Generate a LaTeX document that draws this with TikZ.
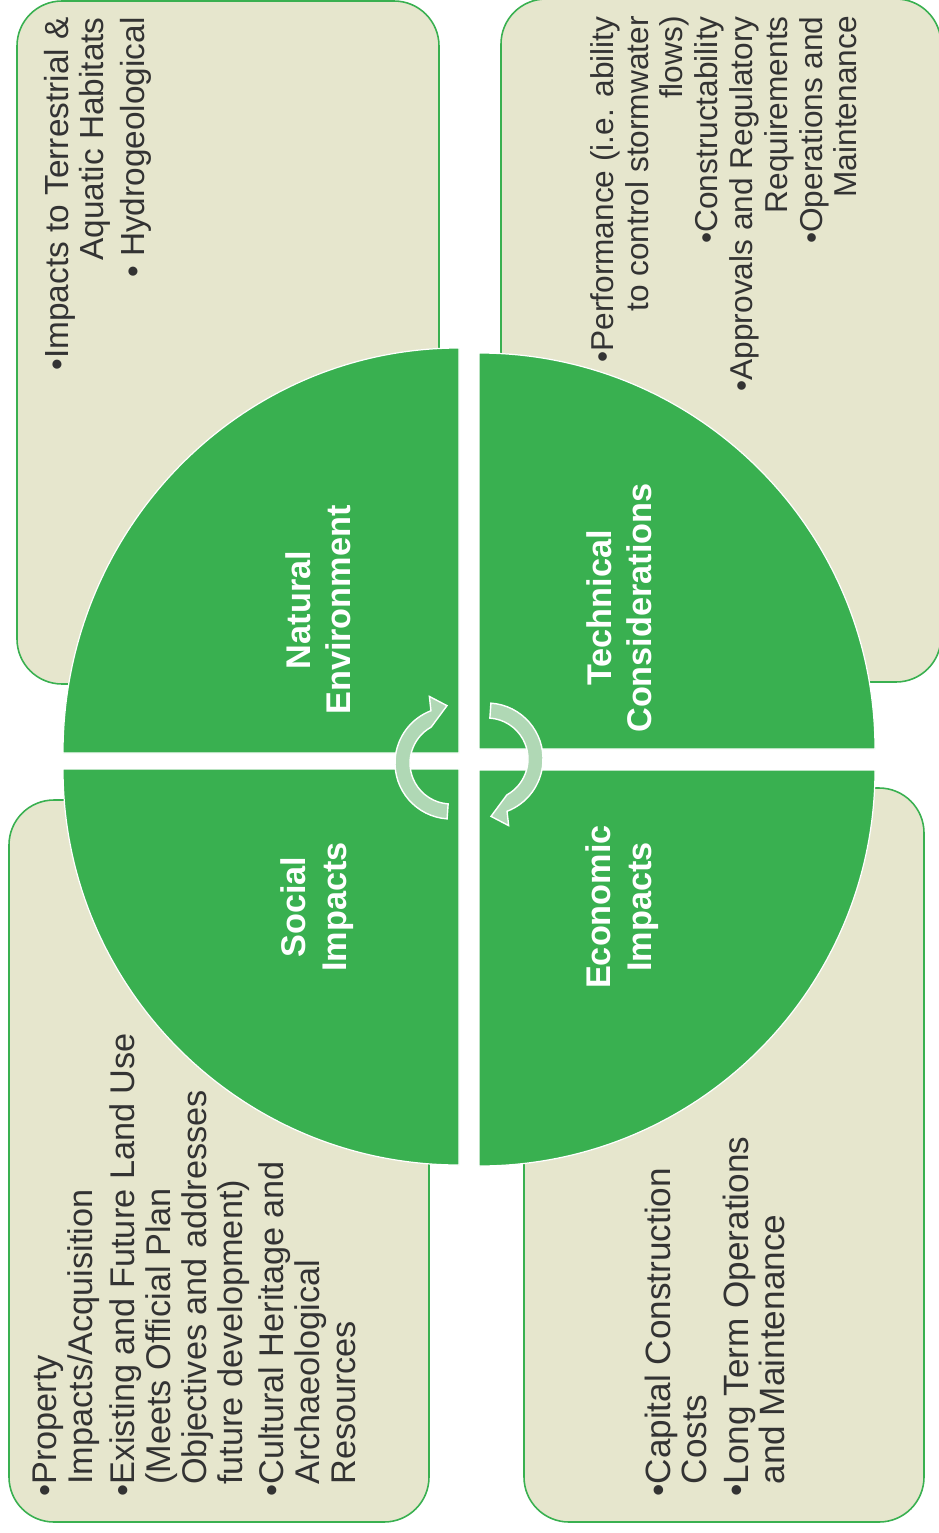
\documentclass[tikz,border=0pt]{standalone}
\usepackage{fontspec}
\setmainfont{Liberation Sans}
\usepackage{tikz}
\usetikzlibrary{calc}
\usetikzlibrary{positioning}
\definecolor{leafgreen}{RGB}{57, 176, 80}
\definecolor{parchment}{RGB}{230, 230, 205}
\definecolor{mintgreen}{RGB}{176, 216, 181}

\begin{document}
\begin{tikzpicture}[
    listbox/.style={fill=parchment, draw=leafgreen, line width=0.9pt, rounded corners=0.9cm},
    quadrant/.style={fill=leafgreen, draw=white, line width=0.7pt},
    cyclearrow/.style={fill=mintgreen, draw=white, line width=0.8pt},
    titletext/.style={text=white, align=center, rotate=90, inner sep=0pt,
                      font={\fontsize{19.5pt}{23pt}\selectfont\bfseries}},
    listtext/.style={text=black!80, rotate=90, inner sep=0pt}
  ]
            % Frame to fix the page size
            \useasboundingbox (0,0) rectangle (18.76,-30.66);
            % Text panels
            \draw[listbox] ( 0.34, -0.02) rectangle ( 8.78,-13.68);
            \draw[listbox] (10.02,  0.02) rectangle (18.82,-13.64);
            \draw[listbox] ( 0.18,-16.00) rectangle ( 8.58,-30.44);
            \draw[listbox] (10.48,-15.76) rectangle (18.48,-30.44);
            % Quadrants
            \filldraw[quadrant] ( 9.18,-15.06) -- ( 1.26,-15.06) arc[start angle=180, end angle=90, x radius=7.92, y radius=8.10] -- cycle;
            \filldraw[quadrant] ( 9.58,-14.98) -- ( 9.58, -7.06) arc[start angle=90,  end angle=0,   radius=7.92] -- cycle;
            \filldraw[quadrant] ( 9.18,-15.38) -- ( 1.26,-15.38) arc[start angle=180, end angle=270, radius=7.92] -- cycle;
            \filldraw[quadrant] ( 9.58,-15.40) -- (17.50,-15.40) arc[start angle=0,   end angle=-90, radius=7.92] -- cycle;
            % Cycle arrows
            \coordinate (lefthub)  at (9.02,-15.26);
            \coordinate (righthub) at (9.74,-15.18);
            \filldraw[cyclearrow] ($(lefthub)+(266:1.12)$) arc[start angle=266, end angle=111, radius=1.12]
                 -- ($(lefthub)+(108:1.40)$) -- ($(lefthub)+(94:1.15)$) -- ($(lefthub)+(119:0.82)$)
                 arc[start angle=119, end angle=266, radius=0.82] -- cycle;
            \filldraw[cyclearrow] ($(righthub)+(86:1.12)$) arc[start angle=86, end angle=-69, radius=1.12]
                 -- ($(righthub)+(-72:1.40)$) -- ($(righthub)+(-86:1.15)$) -- ($(righthub)+(-61:0.82)$)
                 arc[start angle=-61, end angle=86, radius=0.82] -- cycle;
            % Titles
            \node[titletext] (natural)   at ( 6.36,-12.20) {Natural\\Environment};
            \node[titletext] (technical) at (12.38,-12.16) {Technical\\Considerations};
            \node[titletext] (social)    at ( 6.34,-18.14) {Social\\Impacts};
            \node[titletext] (economic)  at (12.44,-18.14) {Economic\\Impacts};
            % Lists
            \node[listtext, anchor=north east, align=right, font={\fontsize{19pt}{20pt}\selectfont}]
                 (naturallist) at (0.88,-0.34)
                 {•Impacts to Terrestrial \&\\Aquatic Habitats\\[3pt]• Hydrogeological};
            \node[listtext, anchor=north east, align=right, font={\fontsize{18pt}{19.8pt}\selectfont}]
                 (technicallist) at (11.80,-0.32)
                 {•Performance (i.e. ability\\to control stormwater\\flows)\\•Constructability\\
                  •Approvals and Regulatory\\Requirements\\•Operations and\\Maintenance};
            \node[listtext, anchor=north west, align=left, font={\fontsize{19.5pt}{20.5pt}\selectfont}]
                 (sociallist) at (0.66,-29.94)
                 {•Property\\\phantom{•}Impacts/Acquisition\\[3pt]
                  •Existing and Future Land Use\\\phantom{•}(Meets Official Plan\\
                  \phantom{•}Objectives and addresses\\\phantom{•}future development)\\[3pt]
                  •Cultural Heritage and\\\phantom{•}Archaeological\\\phantom{•}Resources};
            \node[listtext, anchor=north west, align=left, font={\fontsize{20pt}{20.5pt}\selectfont}]
                 (economiclist) at (12.90,-29.94)
                 {•Capital Construction\\\phantom{•}Costs\\[3pt]•Long Term Operations\\\phantom{•}and Maintenance};
        \end{tikzpicture}
\end{document}
